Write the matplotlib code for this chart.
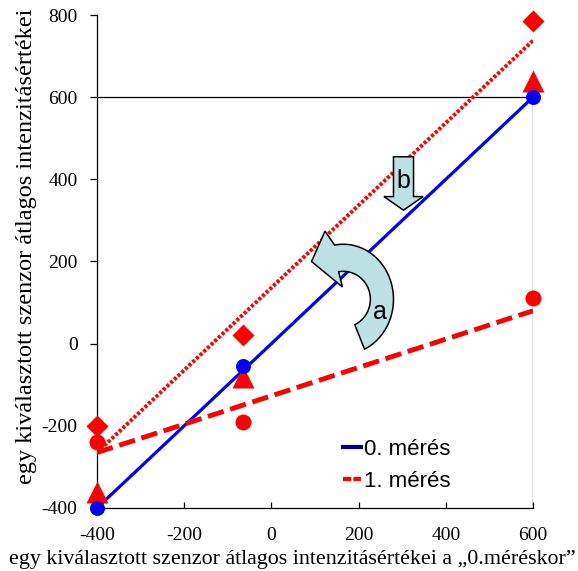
import numpy as np
import matplotlib
matplotlib.use("Agg")
import matplotlib.pyplot as plt
from matplotlib.patches import Polygon
from matplotlib.lines import Line2D

plt.rcParams["axes.unicode_minus"] = False

# average intensities of the selected sensor, x = value at measurement 0
x_pts = [-400, -65, 600]
meas0_circles = [-400, -55, 600]
meas1_triangles = [-360, -82, 640]
meas1_diamonds = [-200, 20, 785]
meas1_circles = [-240, -190, 110]

# fitted lines, given at both ends of the x range
x_fit = [-400, 600]
fit0 = [-400, 600]
fit1_shifted = [-265, 738]
fit1 = [-265, 80]

x_ticks = [-400, -200, 0, 200, 400, 600]
y_ticks = [-400, -200, 0, 200, 400, 600, 800]
legend_labels = ["0. mérés", "1. mérés"]

xlabel = "egy kiválasztott szenzor átlagos intenzitásértékei a \u201e0.méréskor\u201d"
ylabel = "egy kiválasztott szenzor átlagos intenzitásértékei"

SERIF = "Liberation Serif"
SANS = "Liberation Sans"
ARROW_FILL = "#bde0e3"

fig = plt.figure(figsize=(5.78, 5.71), dpi=100)
ax = fig.add_axes([97 / 578, 63 / 571, 436 / 578, 493 / 571])

ax.set_xlim(-400, 600)
ax.set_ylim(-400, 800)

# plot area border (top at 600, right at 600)
ax.plot([-400, 600, 600], [600, 600, -400], color="black", lw=0.9, zorder=1)

ax.plot(x_fit, fit0, color="#0000ff", lw=2.3, zorder=3)
ax.plot(x_fit, fit1_shifted, color="#ff0000", lw=2.8,
        linestyle=(0, (0.8, 0.5)), zorder=3)
ax.plot(x_fit, fit1, color="#ff0000", lw=3.5,
        linestyle=(0, (3.4, 1.4)), zorder=3)

ax.plot(x_pts, meas1_diamonds, "D", color="#ff0000", ms=11.5,
        mec="none", clip_on=False, zorder=4)
ax.plot(x_pts, meas1_circles, "o", color="#ff0000", ms=11.5,
        mec="none", clip_on=False, zorder=4)
ax.plot(x_pts, meas1_triangles, "^", color="#ff0000", ms=16.5,
        mec="none", clip_on=False, zorder=4)
ax.plot(x_pts, meas0_circles, "o", color="#0000ff", ms=10.8,
        mec="none", clip_on=False, zorder=5)

# curved arrow "a"
cx, cy = 165, 108
t_out = np.radians(np.linspace(-65, 100, 60))
t_in = t_out[::-1]
outer = np.column_stack([cx + 115 * np.cos(t_out), cy + 134 * np.sin(t_out)])
inner = np.column_stack([cx + 62 * np.cos(t_in), cy + 68 * np.sin(t_in)])
head = np.array([[123, 274], [92, 200], [163, 138]])
ax.add_patch(Polygon(np.vstack([outer, head, inner]), closed=True,
                     facecolor=ARROW_FILL, edgecolor="black", lw=1.1, zorder=6))
ax.text(248, 78, "a", fontsize=18, family=SANS, ha="center", va="center",
        zorder=7)

# down arrow "b"
ax.add_patch(Polygon([[280, 455], [326, 455], [326, 358], [348, 358],
                      [303, 325], [258, 358], [280, 358]], closed=True,
                     facecolor=ARROW_FILL, edgecolor="black", lw=1.1, zorder=6))
ax.text(303, 395, "b", fontsize=18, family=SANS, ha="center", va="center",
        zorder=7)

for side in ["top", "right"]:
    ax.spines[side].set_visible(False)
for side in ["left", "bottom"]:
    ax.spines[side].set_linewidth(0.9)

ax.set_xticks(x_ticks)
ax.set_yticks(y_ticks)
ax.tick_params(axis="y", direction="out", length=5, width=0.9, pad=9,
               labelsize=14)
ax.tick_params(axis="x", direction="in", length=4, width=0.9, pad=14,
               labelsize=14)
for lab in ax.get_xticklabels() + ax.get_yticklabels():
    lab.set_family(SERIF)

ax.set_xlabel(xlabel, family=SERIF, fontsize=15.8)
ax.set_ylabel(ylabel, family=SERIF, fontsize=17.5)
ax.xaxis.set_label_coords(0.448, -0.086)
ax.yaxis.set_label_coords(-0.138, 0.53)

handles = [Line2D([], [], color="#000080", lw=3),
           Line2D([], [], color="#ff0000", lw=3, linestyle=(0, (2, 0.5)))]
ax.legend(handles, legend_labels, loc="upper left",
          bbox_to_anchor=(0.564, 0.14), frameon=False,
          prop={"family": SANS, "size": 16}, handlelength=0.8,
          handletextpad=0.15, labelspacing=0.5, borderpad=0,
          borderaxespad=0)

fig.savefig("out.png", dpi=100)
